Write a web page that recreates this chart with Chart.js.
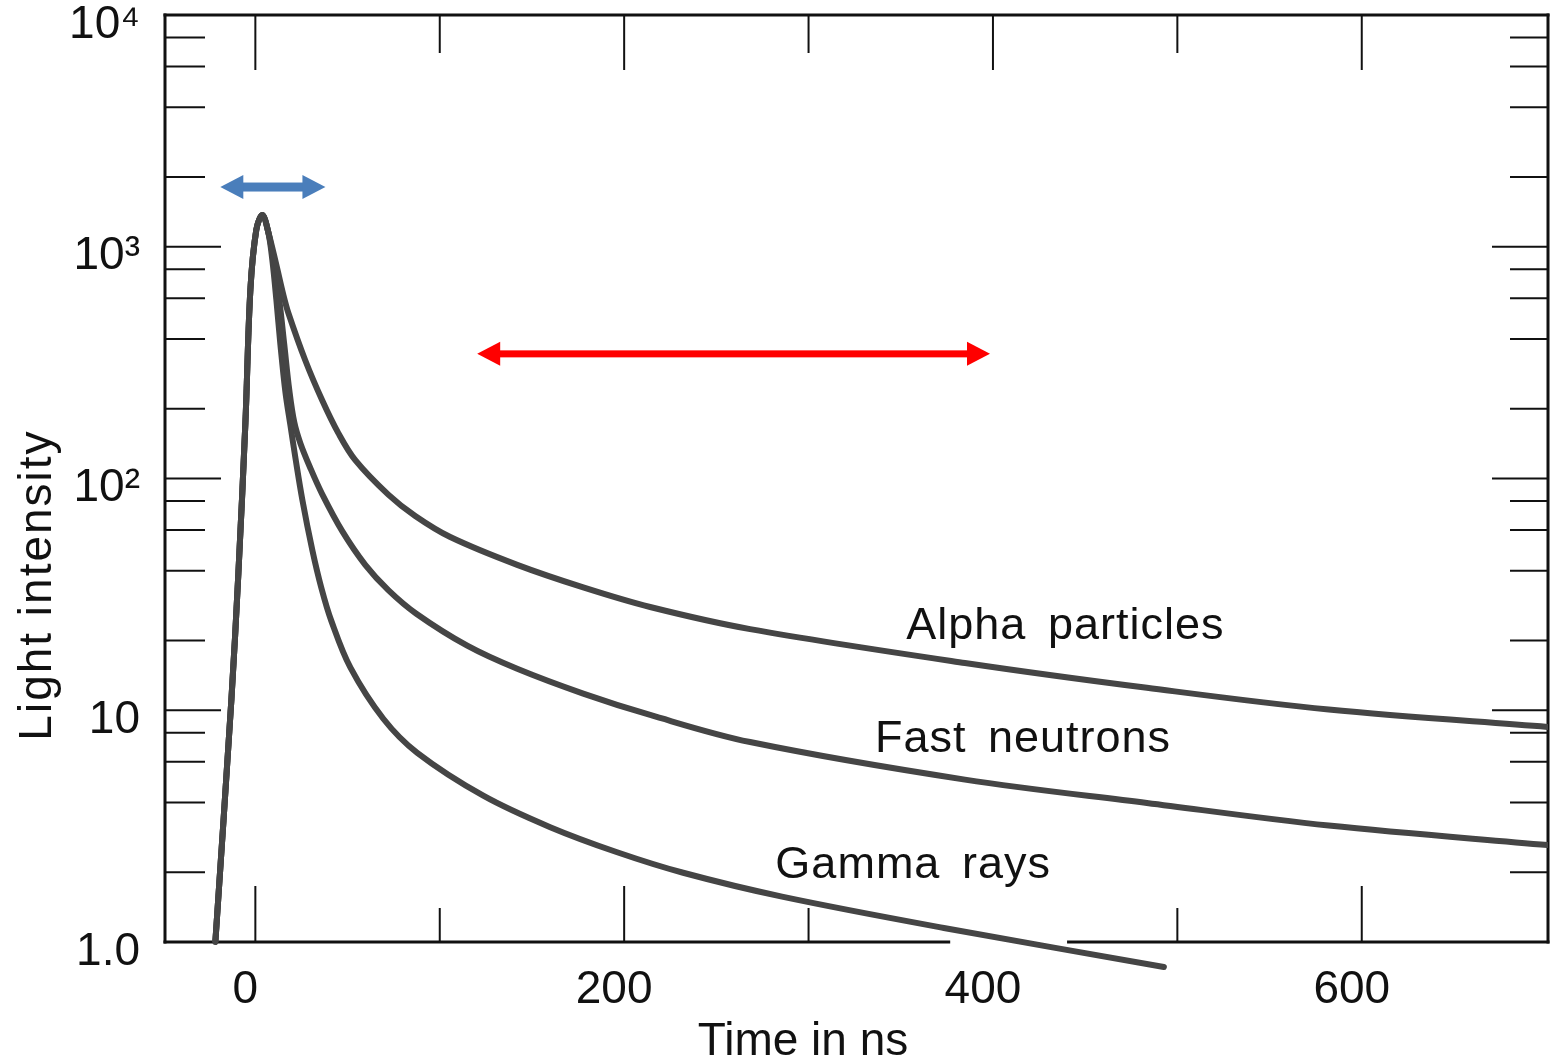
<!DOCTYPE html>
<html>
<head>
<meta charset="utf-8">
<title>Light intensity vs time</title>
<script src="https://cdn.jsdelivr.net/npm/chart.js@4.4.1/dist/chart.umd.min.js"></script>
<style>
html, body { margin: 0; padding: 0; background: #fff; }
#wrap { width: 1551px; height: 1060px; position: relative; }
</style>
</head>
<body>
<div id="wrap"><canvas id="pulse-chart"></canvas></div>
<script>
// pulse shape, time in ns vs relative light intensity

// common rising edge + peak
var riseTime  = [-21.7, -13.0, -9.2, -5.4, -2.7, 0.5, 3.8, 7.0];
var riseLight = [1.0, 11.1, 39.1, 174, 651, 1181, 1371, 1158];

var alphaTime  = [11.4, 15.2, 17.9, 27.1, 36.3, 45.0, 54.2, 72.1, 86.7, 105.7, 142, 177.8, 214.1, 268.3, 384.8, 483.5, 582.1, 700.8];
var alphaLight = [834, 619, 518, 323, 217, 157, 120, 85.2, 68.9, 55.9, 42.4, 33.9, 27.9, 22.4, 16.0, 12.5, 10.07, 8.47];

var neutronTime  = [10.3, 13.0, 15.7, 18.4, 21.1, 24.4, 29.8, 36.3, 47.2, 59.6, 72.1, 87.3, 114.9, 142, 177.8, 214.1, 268.3, 384.8, 483.5, 582.1, 700.8];
var neutronLight = [834, 589, 377, 241, 175, 142, 111, 85.4, 59.1, 42.4, 33.0, 26.1, 19.0, 15.1, 11.8, 9.54, 7.29, 5.02, 3.98, 3.18, 2.62];

var gammaTime  = [9.2, 11.4, 13.6, 16.3, 19.0, 21.7, 25.5, 30.9, 35.8, 41.2, 51.5, 69.4, 87.8, 123.6, 159.9, 196.2, 232, 285.6, 373.4, 492.7];
var gammaLight = [877, 589, 377, 236, 170, 123, 80.8, 49.1, 33.7, 24.3, 15.3, 9.19, 6.55, 4.28, 3.13, 2.44, 1.99, 1.57, 1.15, 0.78];

// axis ticks
var xLabelTicks = [0, 200, 400, 600];
var xMinorTicks = [100, 300, 500];
var yDecades = [1, 10, 100, 1000, 10000];
var yDecadeLabels = ['1.0', '10', '10\u00B2', '10\u00B3', '10\u2074'];
var yMinorTicks = [2, 4, 6, 8, 20, 40, 60, 80, 200, 400, 600, 800, 2000, 4000, 6000, 8000];

// curve names, anchored in data units
var curveLabels = ['Alpha particles', 'Fast neutrons', 'Gamma rays'];
var labelTime  = [353, 336, 282];
var labelLight = [22.9, 7.44, 2.13];

// range arrows (ns) and their height
var arrowFrom  = [-19, 120.3];
var arrowTo    = [38, 398.4];
var arrowLight = [1810, 345];

// bottom axis line is broken in the original print
var axisGap = [376, 441];

var FONT = "'Liberation Sans', Arial, 'DejaVu Sans', sans-serif";

function toPoints(times, values) {
    return times.map(function(t, i) { return { x: t, y: values[i] }; });
}

function makeSet(name, times, values, clip) {
    return {
        label: name,
        data: toPoints(riseTime, riseLight).concat(toPoints(times, values)),
        borderColor: '#454545',
        borderWidth: 6,
        borderCapStyle: 'round',
        borderJoinStyle: 'round',
        tension: 0.35,
        pointRadius: 0,
        fill: false,
        clip: clip,
    };
}

function line(ctx, x1, y1, x2, y2) {
    ctx.beginPath();
    ctx.moveTo(x1, y1);
    ctx.lineTo(x2, y2);
    ctx.stroke();
}

function inGap(v) {
    return v > axisGap[0] && v < axisGap[1];
}

// frame, inward ticks, arrows, names, axis titles
var framePlugin = {
    id: 'frame',
    beforeDatasetsDraw: function(chart) {
        var ctx = chart.ctx;
        var a = chart.chartArea;
        var xs = chart.scales.x;
        var ys = chart.scales.y;
        ctx.save();
        ctx.strokeStyle = '#111';
        ctx.lineCap = 'square';

        ctx.lineWidth = 3;
        line(ctx, a.left, a.top, a.right, a.top);
        line(ctx, a.left, a.top, a.left, a.bottom);
        line(ctx, a.right, a.top, a.right, a.bottom);
        line(ctx, a.left, a.bottom, xs.getPixelForValue(axisGap[0]), a.bottom);
        line(ctx, xs.getPixelForValue(axisGap[1]), a.bottom, a.right, a.bottom);

        ctx.lineWidth = 2;
        ctx.lineCap = 'butt';
        xLabelTicks.forEach(function(v) {
            var px = xs.getPixelForValue(v);
            line(ctx, px, a.top, px, a.top + 55);
            if (!inGap(v)) line(ctx, px, a.bottom, px, a.bottom - 56);
        });
        xMinorTicks.forEach(function(v) {
            var px = xs.getPixelForValue(v);
            line(ctx, px, a.top, px, a.top + 38);
            if (!inGap(v)) line(ctx, px, a.bottom, px, a.bottom - 34);
        });
        yDecades.forEach(function(v) {
            var py = ys.getPixelForValue(v);
            line(ctx, a.left, py, a.left + 56, py);
            line(ctx, a.right, py, a.right - 56, py);
        });
        yMinorTicks.forEach(function(v) {
            var py = ys.getPixelForValue(v);
            line(ctx, a.left, py, a.left + 40, py);
            line(ctx, a.right, py, a.right - 38, py);
        });
        ctx.restore();
    },
    afterDatasetsDraw: function(chart) {
        var ctx = chart.ctx;
        var a = chart.chartArea;
        var xs = chart.scales.x;
        var ys = chart.scales.y;
        var colors = ['#4a7ebb', '#ff0000'];
        ctx.save();

        // double arrows
        arrowFrom.forEach(function(t0, i) {
            var x1 = xs.getPixelForValue(t0);
            var x2 = xs.getPixelForValue(arrowTo[i]);
            var y = ys.getPixelForValue(arrowLight[i]);
            var head = 23, half = 12, shaft = i === 0 ? 9 : 7;
            ctx.fillStyle = colors[i];
            ctx.fillRect(x1 + head - 1, y - shaft / 2, x2 - x1 - 2 * head + 2, shaft);
            ctx.beginPath();
            ctx.moveTo(x1, y);
            ctx.lineTo(x1 + head, y - half);
            ctx.lineTo(x1 + head, y + half);
            ctx.closePath();
            ctx.fill();
            ctx.beginPath();
            ctx.moveTo(x2, y);
            ctx.lineTo(x2 - head, y - half);
            ctx.lineTo(x2 - head, y + half);
            ctx.closePath();
            ctx.fill();
        });

        // curve names
        ctx.fillStyle = '#111';
        ctx.font = '45px ' + FONT;
        ctx.textAlign = 'left';
        ctx.textBaseline = 'middle';
        if ('letterSpacing' in ctx) ctx.letterSpacing = '1px';
        if ('wordSpacing' in ctx) ctx.wordSpacing = '8px';
        curveLabels.forEach(function(txt, i) {
            ctx.fillText(txt, xs.getPixelForValue(labelTime[i]), ys.getPixelForValue(labelLight[i]));
        });
        if ('wordSpacing' in ctx) ctx.wordSpacing = '0px';

        // axis titles (placed off-centre as in the print)
        ctx.textAlign = 'center';
        ctx.font = '46px ' + FONT;
        if ('letterSpacing' in ctx) ctx.letterSpacing = '0px';
        ctx.fillText('Time in ns', xs.getPixelForValue(297), a.bottom + 100);

        if ('letterSpacing' in ctx) ctx.letterSpacing = '2px';
        ctx.translate(38, ys.getPixelForValue(34.7));
        ctx.rotate(-Math.PI / 2);
        ctx.fillText('Light intensity', 0, 0);
        ctx.restore();
    }
};

var canvas = document.getElementById('pulse-chart');

new Chart(canvas.getContext('2d'), {
    type: 'line',
    data: {
        datasets: [
            makeSet('Alpha particles', alphaTime, alphaLight, true),
            makeSet('Fast neutrons', neutronTime, neutronLight, true),
            makeSet('Gamma rays', gammaTime, gammaLight, false),
        ],
    },
    options: {
        responsive: true,
        maintainAspectRatio: false,
        animation: false,
        layout: {
            padding: { top: 15, right: 3, left: 0, bottom: 0 },
        },
        plugins: {
            legend: { display: false },
            tooltip: { enabled: false },
        },
        scales: {
            x: {
                type: 'linear',
                min: -49,
                max: 701,
                afterFit: function(scale) {
                    scale.height = 118;
                    scale.paddingLeft = 0;
                    scale.paddingRight = 0;
                },
                afterBuildTicks: function(scale) {
                    scale.ticks = xLabelTicks.map(function(v) { return { value: v }; });
                },
                grid: { display: false },
                border: { display: false },
                ticks: {
                    color: '#111',
                    font: { family: FONT, size: 46 },
                    padding: 13,
                    labelOffset: -10,
                    maxRotation: 0,
                    autoSkip: false,
                    callback: function(v) { return String(v); },
                },
            },
            y: {
                type: 'logarithmic',
                min: 1,
                max: 10000,
                afterFit: function(scale) {
                    scale.width = 165;
                    scale.paddingTop = 0;
                    scale.paddingBottom = 0;
                },
                afterBuildTicks: function(scale) {
                    scale.ticks = yDecades.map(function(v) { return { value: v }; });
                },
                grid: { display: false },
                border: { display: false },
                ticks: {
                    color: '#111',
                    font: { family: FONT, size: 46 },
                    padding: 17,
                    labelOffset: 10,
                    autoSkip: false,
                    callback: function(v) {
                        var i = yDecades.indexOf(v);
                        return i >= 0 ? yDecadeLabels[i] : '';
                    },
                },
            },
        },
    },
    plugins: [framePlugin],
});
</script>
</body>
</html>
